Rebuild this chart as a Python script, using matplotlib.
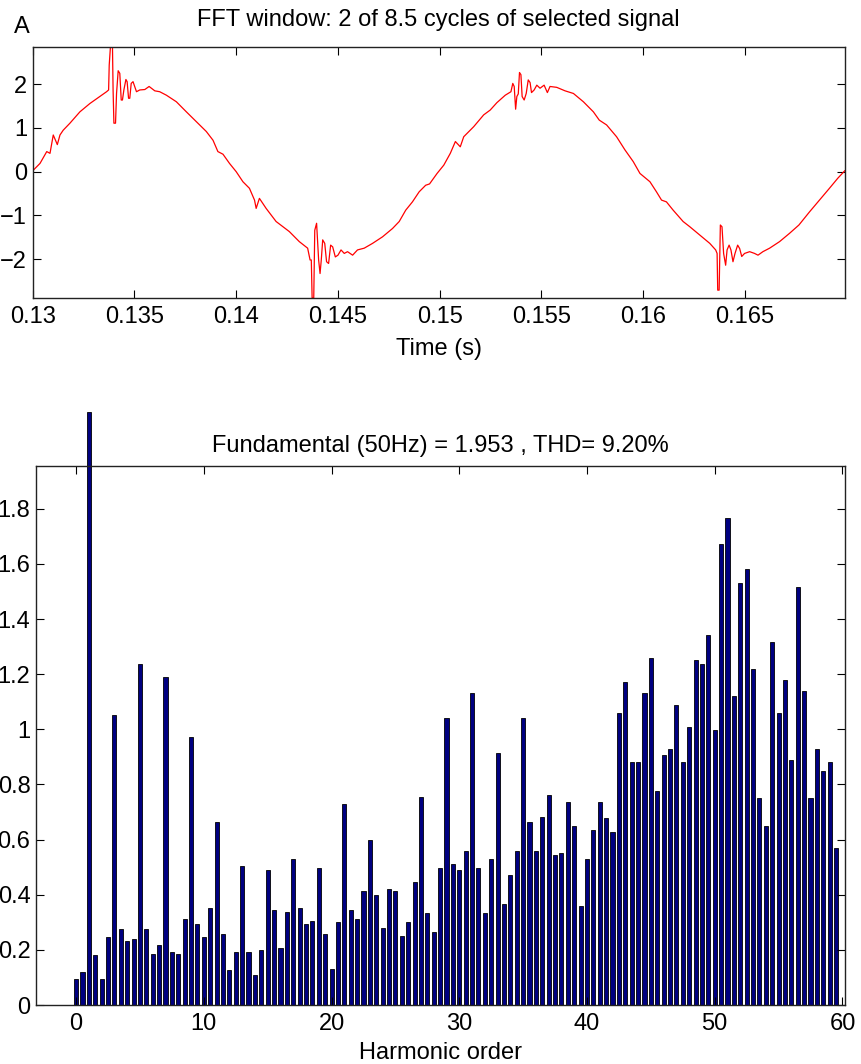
import matplotlib
matplotlib.use("Agg")
import matplotlib.pyplot as plt
import numpy as np

plt.rcParams['font.family'] = ['Liberation Sans', 'DejaVu Sans']

# ---- top panel: selected signal ----
time_s = [
    .13000, .13036, .13069, .13085, .13101, .13121, .13134, .13150, .13183, .13232,
    .13281, .13330, .13363, .13373, .13376, .13382, .13392, .13395, .13399, .13407,
    .13412, .13420, .13428, .13435, .13441, .13448, .13458, .13464, .13471, .13477,
    .13484, .13493, .13510, .13526, .13551, .13572, .13600, .13624, .13657, .13706,
    .13755, .13812, .13853, .13886, .13910, .13935, .13967, .14000, .14033, .14065,
    .14090, .14098, .14114, .14147, .14196, .14261, .14310, .14351, .14363, .14369,
    .14373, .14381, .14386, .14395, .14405, .14412, .14418, .14425, .14435, .14444,
    .14454, .14464, .14474, .14487, .14500, .14515, .14531, .14547, .14572, .14596,
    .14629, .14670, .14719, .14768, .14801, .14833, .14866, .14899, .14931, .14950,
    .14987, .15020, .15052, .15077, .15101, .15118, .15167, .15216, .15248, .15281,
    .15322, .15350, .15359, .15366, .15373, .15379, .15386, .15392, .15399, .15405,
    .15415, .15425, .15435, .15444, .15451, .15464, .15477, .15493, .15513, .15529,
    .15542, .15575, .15616, .15657, .15706, .15755, .15784, .15820, .15869, .15910,
    .15951, .15984, .16033, .16065, .16090, .16114, .16147, .16196, .16229, .16278,
    .16327, .16356, .16363, .16366, .16373, .16379, .16387, .16395, .16405, .16412,
    .16422, .16431, .16441, .16451, .16464, .16474, .16484, .16498, .16523, .16547,
    .16564, .16588, .16621, .16670, .16719, .16765, .16817, .16866, .16915, .16956,
    .16990,
]
signal = [
    0.02, 0.19, 0.46, 0.42, 0.84, 0.62, 0.84, 0.95, 1.11, 1.37,
    1.56, 1.72, 1.83, 1.87, 2.44, 2.86, 2.86, 1.87, 1.11, 1.11,
    1.79, 2.31, 2.25, 1.64, 1.64, 1.87, 2.11, 2.06, 1.68, 1.68,
    2.02, 2.06, 1.83, 1.87, 1.88, 1.95, 1.85, 1.83, 1.75, 1.60,
    1.37, 1.11, 0.92, 0.72, 0.46, 0.40, 0.19, 0.00, -0.23, -0.38,
    -0.65, -0.84, -0.61, -0.84, -1.14, -1.37, -1.60, -1.75, -2.02, -2.02,
    -2.89, -2.89, -1.34, -1.18, -2.02, -2.33, -2.02, -1.56, -1.64, -2.06,
    -2.10, -1.68, -1.72, -1.95, -1.91, -1.79, -1.87, -1.83, -1.91, -1.79,
    -1.75, -1.64, -1.49, -1.30, -1.14, -0.88, -0.69, -0.46, -0.31, -0.28,
    -0.04, 0.15, 0.42, 0.69, 0.57, 0.80, 1.03, 1.30, 1.41, 1.58,
    1.75, 1.83, 2.02, 1.95, 1.43, 1.72, 1.78, 2.27, 2.22, 1.72,
    1.64, 1.79, 2.10, 2.04, 1.81, 1.87, 1.98, 1.91, 1.98, 1.81,
    1.95, 1.93, 1.85, 1.79, 1.60, 1.37, 1.18, 1.07, 0.80, 0.50,
    0.23, -0.04, -0.23, -0.46, -0.65, -0.69, -0.88, -1.14, -1.26, -1.45,
    -1.64, -1.79, -1.87, -2.71, -2.71, -1.22, -1.26, -1.87, -2.14, -1.79,
    -1.68, -1.79, -2.06, -1.87, -1.68, -1.76, -1.94, -1.87, -1.83, -1.87,
    -1.91, -1.83, -1.75, -1.60, -1.41, -1.22, -0.92, -0.65, -0.38, -0.15,
    0.02,
]
time_ticks = [0.13, 0.135, 0.14, 0.145, 0.15, 0.155, 0.16, 0.165]
time_ticklabels = ['0.13', '0.135', '0.14', '0.145', '0.15', '0.155', '0.16', '0.165']
amp_ticks = [-2, -1, 0, 1, 2]

# ---- bottom panel: harmonic spectrum ----
harmonic_order = [i / 2 for i in range(120)]
magnitude = [
    0.094, 0.121, 2.15, 0.18, 0.094, 0.246, 1.051, 0.274, 0.233, 0.240,
    1.237, 0.274, 0.186, 0.219, 1.191, 0.194, 0.186, 0.312, 0.973, 0.292,
    0.246, 0.353, 0.662, 0.259, 0.128, 0.194, 0.504, 0.194, 0.108, 0.200,
    0.491, 0.346, 0.206, 0.338, 0.531, 0.353, 0.292, 0.305, 0.497, 0.259,
    0.131, 0.300, 0.729, 0.346, 0.312, 0.412, 0.598, 0.399, 0.279, 0.422,
    0.412, 0.252, 0.300, 0.445, 0.756, 0.333, 0.266, 0.497, 1.040, 0.511,
    0.491, 0.557, 1.132, 0.497, 0.333, 0.531, 0.914, 0.366, 0.471, 0.557,
    1.040, 0.662, 0.557, 0.682, 0.763, 0.544, 0.550, 0.736, 0.648, 0.358,
    0.531, 0.636, 0.736, 0.677, 0.629, 1.058, 1.172, 0.881, 0.881, 1.132,
    1.257, 0.776, 0.907, 0.927, 1.087, 0.881, 1.009, 1.251, 1.238, 1.343,
    0.996, 1.673, 1.767, 1.119, 1.529, 1.581, 1.218, 0.749, 0.651, 1.315,
    1.058, 1.178, 0.888, 1.515, 1.139, 0.749, 0.927, 0.848, 0.881, 0.570,
]
harm_ticks = [0, 10, 20, 30, 40, 50, 60]
mag_ticks = [0, 0.2, 0.4, 0.6, 0.8, 1.0, 1.2, 1.4, 1.6, 1.8]
mag_ticklabels = ['0', '0.2', '0.4', '0.6', '0.8', '1', '1.2', '1.4', '1.6', '1.8']

W, H = 861, 1064
fig = plt.figure(figsize=(W / 100, H / 100), dpi=100)
FS = 17

def box(l, t, r, b):
    return [l / W, 1 - b / H, (r - l) / W, (b - t) / H]

def style(ax):
    ax.tick_params(direction='in', top=True, right=True, length=6, width=0.8,
                   labelsize=FS, colors='black')
    ax.tick_params(axis='x', pad=6)
    ax.tick_params(axis='y', pad=4)
    for s in ax.spines.values():
        s.set_linewidth(1.0)
        s.set_color('#222222')

# top axes
ax1 = fig.add_axes(box(32.7, 46.7, 844.7, 298))
ax1.plot(time_s, signal, color='red', linewidth=0.9)
ax1.set_xlim(0.13, 0.1699)
ax1.set_ylim(-2.89, 2.86)
ax1.set_xticks(time_ticks)
ax1.set_xticklabels(time_ticklabels)
ax1.set_yticks(amp_ticks)
style(ax1)
ax1.set_title('FFT window: 2 of 8.5 cycles of selected signal', fontsize=FS, pad=15)
ax1.set_xlabel('Time (s)', fontsize=FS, labelpad=7)
fig.text(14 / W, 1 - 33 / H, 'A', fontsize=FS, va='baseline', ha='left')

# bottom axes
ax2 = fig.add_axes(box(36, 466, 845, 1005))
bars = ax2.bar(harmonic_order, magnitude, width=0.32, color='#000080',
               edgecolor='black', linewidth=0.6)
for b in bars:
    b.set_clip_on(False)
ax2.set_xlim(-3.14, 60.2)
ax2.set_ylim(0, 1.955)
ax2.set_xticks(harm_ticks)
ax2.set_yticks(mag_ticks)
ax2.set_yticklabels(mag_ticklabels)
style(ax2)
ax2.set_title('Fundamental (50Hz) = 1.953 , THD= 9.20%', fontsize=FS, pad=10)
ax2.set_xlabel('Harmonic order', fontsize=FS, labelpad=5)

fig.savefig('out.png', dpi=100)
